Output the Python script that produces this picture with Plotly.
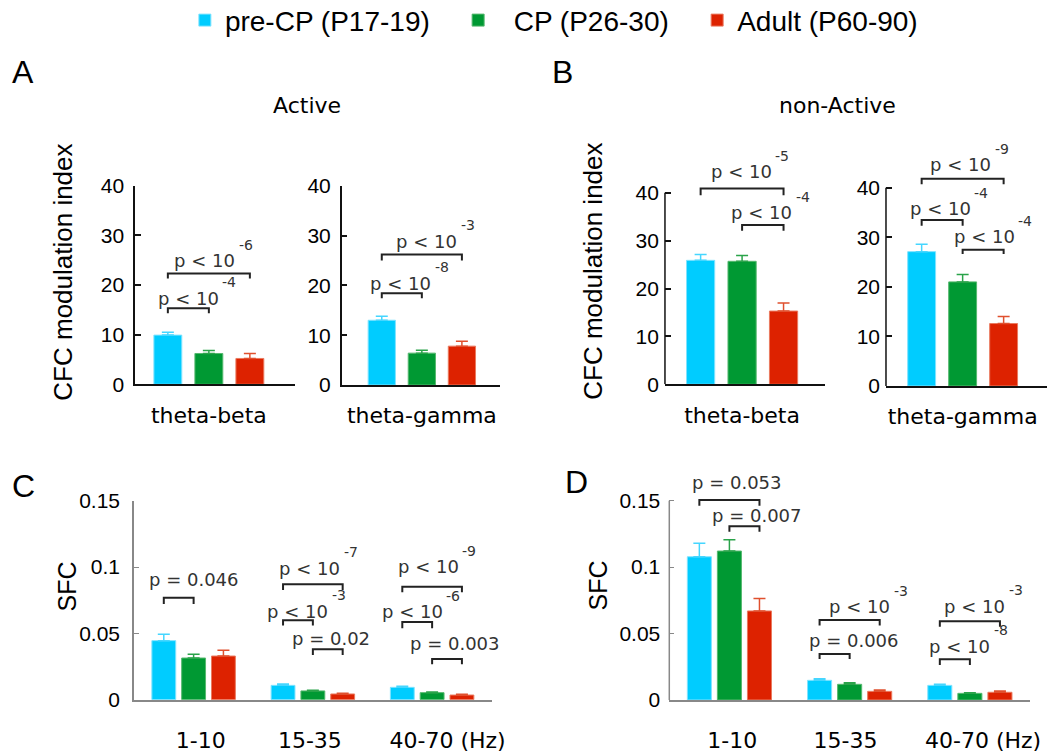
import plotly.graph_objects as go

# ---------------- data ----------------
group_names = ["pre-CP (P17-19)\u00a0\u00a0\u00a0", "\u00a0\u00a0CP (P26-30)\u00a0\u00a0\u00a0", "Adult (P60-90)"]
group_colors = ["#00CCFF", "#009933", "#DD2200"]
group_err_colors = ["#45D6FF", "#2AA34A", "#E0502E"]
group_edge_colors = ["#7FE3FF", "#55B86E", "#EA7A5F"]

cfc_labels = ["theta-beta", "theta-gamma"]

active_beta_mean = [9.9, 6.2, 5.2]
active_beta_sem = [0.6, 0.6, 1.0]
active_gamma_mean = [13.0, 6.4, 7.8]
active_gamma_sem = [0.8, 0.6, 1.0]
nonactive_beta_mean = [25.9, 25.7, 15.3]
nonactive_beta_sem = [1.2, 1.2, 1.7]
nonactive_gamma_mean = [27.1, 21.0, 12.6]
nonactive_gamma_sem = [1.5, 1.5, 1.4]

sfc_bands = ["1-10", "15-35", "40-70 (Hz)"]
sfc_active_precp = [0.0445, 0.0108, 0.0093]
sfc_active_precp_sem = [0.0048, 0.0010, 0.0008]
sfc_active_cp = [0.0314, 0.0066, 0.0053]
sfc_active_cp_sem = [0.0028, 0.0005, 0.0005]
sfc_active_adult = [0.0329, 0.0043, 0.0035]
sfc_active_adult_sem = [0.0043, 0.0005, 0.0005]
sfc_nonactive_precp = [0.1078, 0.0148, 0.0110]
sfc_nonactive_precp_sem = [0.0101, 0.0012, 0.0008]
sfc_nonactive_cp = [0.1121, 0.0118, 0.0050]
sfc_nonactive_cp_sem = [0.0085, 0.0012, 0.0005]
sfc_nonactive_adult = [0.0670, 0.0065, 0.0058]
sfc_nonactive_adult_sem = [0.0093, 0.0010, 0.0010]

cfc_ticks = [0, 10, 20, 30, 40]
sfc_ticks = [0, 0.05, 0.1, 0.15]
sfc_tick_text = ["0", "0.05", "0.1", "0.15"]

# significance brackets: subplot, band, bar i, bar j, level, tick bottom, label, exponent
brackets = [
    ("A1", 0, 0, 1, 15.3, 14.3, "p < 10", "-4"),
    ("A1", 0, 0, 2, 22.3, 21.3, "p < 10", "-6"),
    ("A2", 0, 0, 1, 18.4, 17.4, "p < 10", "-8"),
    ("A2", 0, 0, 2, 26.2, 25.0, "p < 10", "-3"),
    ("B1", 0, 0, 2, 40.9, 39.5, "p < 10", "-5"),
    ("B1", 0, 1, 2, 33.3, 32.1, "p < 10", "-4"),
    ("B2", 0, 0, 2, 41.8, 40.7, "p < 10", "-9"),
    ("B2", 0, 0, 1, 33.5, 32.3, "p < 10", "-4"),
    ("B2", 0, 1, 2, 27.5, 26.6, "p < 10", "-4"),
    ("C", 0, 0, 1, 0.0769, 0.0721, "p = 0.046", None),
    ("C", 1, 0, 2, 0.0870, 0.0827, "p < 10", "-7"),
    ("C", 1, 0, 1, 0.0598, 0.0560, "p < 10", "-3"),
    ("C", 1, 1, 2, 0.0380, 0.0337, "p = 0.02", None),
    ("C", 2, 0, 2, 0.0852, 0.0810, "p < 10", "-9"),
    ("C", 2, 0, 1, 0.0586, 0.0538, "p < 10", "-6"),
    ("C", 2, 1, 2, 0.0307, 0.0267, "p = 0.003", None),
    ("D", 0, 0, 2, 0.1505, 0.1462, "p = 0.053", None),
    ("D", 0, 1, 2, 0.1307, 0.1267, "p = 0.007", None),
    ("D", 1, 0, 2, 0.0602, 0.0560, "p < 10", "-3"),
    ("D", 1, 0, 1, 0.0346, 0.0309, "p = 0.006", None),
    ("D", 2, 0, 2, 0.0592, 0.0552, "p < 10", "-3"),
    ("D", 2, 0, 1, 0.0306, 0.0263, "p < 10", "-8"),
]
# label pixel offsets (dx, dy) relative to bracket centre
label_offsets = [
    (0, 10), (-4, 13), (-1, 10), (5, 13), (-1, 17), (-1, 12), (-2, 14), (-2, 11), (1, 13),
    (15, 18), (-3, 16), (0, 9), (3, 11), (-4, 20), (-5, 10), (7, 15),
    (7, 18), (12, 11), (10, 13), (19, 14), (5, 15), (5, 13),
]

# ---------------- styling ----------------
SANS = "Liberation Sans"
DJV = "DejaVu Sans"
TXT = "#333333"
sfc_offsets = [-0.25, 0.0, 0.25]
sfc_bar_width = 0.2
cfc_bar_width = 0.68

axes = {"A1": ("x", "y"), "A2": ("x2", "y2"), "B1": ("x3", "y3"),
        "B2": ("x4", "y4"), "C": ("x5", "y5"), "D": ("x6", "y6")}

fig = go.Figure()

cfc_sets = [("A1", active_beta_mean, active_beta_sem),
            ("A2", active_gamma_mean, active_gamma_sem),
            ("B1", nonactive_beta_mean, nonactive_beta_sem),
            ("B2", nonactive_gamma_mean, nonactive_gamma_sem)]
for key, means, sems in cfc_sets:
    xa, ya = axes[key]
    for k in range(3):
        fig.add_trace(go.Bar(
            x=[k], y=[means[k]], width=cfc_bar_width, name=group_names[k],
            legendgroup=str(k), showlegend=(key == "A1"),
            marker=dict(color=group_colors[k], line=dict(color=group_edge_colors[k], width=1)),
            error_y=dict(type="data", array=[sems[k]], arrayminus=[0], symmetric=False,
                         color=group_err_colors[k], thickness=1.5, width=6),
            xaxis=xa, yaxis=ya, hoverinfo="skip"))

sfc_sets = [("C", [(sfc_active_precp, sfc_active_precp_sem),
                   (sfc_active_cp, sfc_active_cp_sem),
                   (sfc_active_adult, sfc_active_adult_sem)]),
            ("D", [(sfc_nonactive_precp, sfc_nonactive_precp_sem),
                   (sfc_nonactive_cp, sfc_nonactive_cp_sem),
                   (sfc_nonactive_adult, sfc_nonactive_adult_sem)])]
for key, series in sfc_sets:
    xa, ya = axes[key]
    for k, (means, sems) in enumerate(series):
        fig.add_trace(go.Bar(
            x=[b + sfc_offsets[k] for b in range(len(sfc_bands))], y=means,
            width=sfc_bar_width, name=group_names[k], legendgroup=str(k), showlegend=False,
            marker=dict(color=group_colors[k], line=dict(color=group_edge_colors[k], width=1)),
            error_y=dict(type="data", array=sems, arrayminus=[0] * len(sems), symmetric=False,
                         color=group_err_colors[k], thickness=1.5, width=6),
            xaxis=xa, yaxis=ya, hoverinfo="skip"))

shapes = []
annotations = []

def bar_x(key, band, i):
    if key in ("C", "D"):
        return band + sfc_offsets[i]
    return i

for (key, band, i, j, lvl, bot, label, expo), (dx, dy) in zip(brackets, label_offsets):
    xa, ya = axes[key]
    x0, x1 = bar_x(key, band, i), bar_x(key, band, j)
    shapes.append(dict(type="path", xref=xa, yref=ya,
                       path=f"M {x0},{bot} L {x0},{lvl} L {x1},{lvl} L {x1},{bot}",
                       line=dict(color="#222222", width=2)))
    xm = (x0 + x1) / 2
    annotations.append(dict(x=xm, y=lvl, xref=xa, yref=ya, text=label, showarrow=False,
                            xanchor="center", yanchor="middle", xshift=dx, yshift=dy,
                            font=dict(family=DJV, size=18, color=TXT)))
    if expo:
        annotations.append(dict(x=xm, y=lvl, xref=xa, yref=ya, text=expo, showarrow=False,
                                xanchor="left", yanchor="middle", xshift=dx + 32, yshift=dy + 16,
                                font=dict(family=DJV, size=14, color=TXT)))

# axis lines for panels whose range is extended to fit brackets
for key, top, col, w in [("B1", 40, "#111111", 1.5), ("B2", 40, "#111111", 1.5), ("D", 0.15, "#888888", 1.5)]:
    xa, ya = axes[key]
    shapes.append(dict(type="line", xref=xa + " domain", yref=ya, x0=0, x1=0, y0=0, y1=top,
                       line=dict(color=col, width=w)))

# panel texts
def paper_text(x, y, text, family, size, angle=0, color="black"):
    annotations.append(dict(x=x, y=y, xref="paper", yref="paper", text=text, showarrow=False,
                            xanchor="center", yanchor="middle", textangle=angle,
                            font=dict(family=family, size=size, color=color)))

paper_text(0.0218, 0.9052, "A", SANS, 32)
paper_text(0.5330, 0.9048, "B", SANS, 32)
paper_text(0.0226, 0.3567, "C", SANS, 32)
paper_text(0.5464, 0.3618, "D", SANS, 32)
paper_text(0.2910, 0.8611, "Active", DJV, 22)
paper_text(0.7934, 0.8611, "non-Active", DJV, 22)
paper_text(0.0597, 0.6406, "CFC modulation index", SANS, 26, -90)
paper_text(0.5621, 0.6406, "CFC modulation index", SANS, 26, -90)
paper_text(0.0632, 0.2239, "SFC", SANS, 25, -90)
paper_text(0.5664, 0.2251, "SFC", SANS, 25, -90)

def cfc_x(domain, rng, label, anchor):
    return dict(domain=domain, anchor=anchor, range=rng, showline=True, linecolor="#111111",
                linewidth=2, ticks="", tickvals=[1], ticktext=[label], ticklabelstandoff=10,
                tickfont=dict(family=DJV, size=22, color="black"), automargin=False,
                showgrid=False, zeroline=False, fixedrange=True)

def cfc_y(domain, anchor, rng, line):
    return dict(domain=domain, anchor=anchor, range=rng, showline=line, linecolor="#111111",
                linewidth=1.5, ticks="inside", ticklen=6, tickwidth=1.5, tickcolor="#111111",
                tickvals=cfc_ticks, ticklabelstandoff=5, automargin=False,
                tickfont=dict(family=SANS, size=21, color="black"),
                showgrid=False, zeroline=False, fixedrange=True)

def sfc_x(domain, tickshift, anchor):
    return dict(domain=domain, anchor=anchor, range=[-0.5, 2.5], showline=True, linecolor="#888888",
                linewidth=1.5, ticks="",
                tickvals=[b + s for b, s in zip(range(len(sfc_bands)), tickshift)],
                ticktext=sfc_bands, tickangle=0, automargin=False,
                ticklabelstandoff=20, tickfont=dict(family=DJV, size=22, color="black"),
                showgrid=False, zeroline=False, fixedrange=True)

def sfc_y(domain, anchor, rng, line):
    return dict(domain=domain, anchor=anchor, range=rng, showline=line, linecolor="#888888",
                linewidth=1.5, ticks="inside", ticklen=5, tickwidth=1.2, tickcolor="#888888",
                tickvals=sfc_ticks, ticktext=sfc_tick_text, ticklabelstandoff=8, automargin=False,
                tickfont=dict(family=SANS, size=21, color="black"),
                showgrid=False, zeroline=False, fixedrange=True)

fig.update_layout(
    width=1055, height=756, margin=dict(l=0, r=0, t=0, b=0, autoexpand=False),
    paper_bgcolor="white", plot_bgcolor="white", barmode="overlay",
    showlegend=True,
    legend=dict(orientation="h", x=0.525, xanchor="center", y=0.973, yanchor="middle",
                font=dict(family=SANS, size=28, color="black"), bgcolor="rgba(0,0,0,0)",
                itemclick=False, itemdoubleclick=False),
    xaxis=cfc_x([0.1280, 0.2796], [-0.8, 3.1], cfc_labels[0], "y"),
    yaxis=cfc_y([0.4917, 0.7544], "x", [0, 40], True),
    xaxis2=cfc_x([0.3239, 0.4739], [-1.0, 2.95], cfc_labels[1], "y2"),
    yaxis2=cfc_y([0.4907, 0.7544], "x2", [0, 40], True),
    xaxis3=cfc_x([0.6303, 0.7820], [-0.86, 3.0], cfc_labels[0], "y3"),
    yaxis3=cfc_y([0.4917, 0.7702], "x3", [0, 44], False),
    xaxis4=cfc_x([0.8398, 0.9921], [-0.87, 3.05], cfc_labels[1], "y4"),
    yaxis4=cfc_y([0.4894, 0.7780], "x4", [0, 44], False),
    xaxis5=sfc_x([0.1270, 0.4661], [0.06, -0.025, 0.13], "y5"),
    yaxis5=sfc_y([0.0745, 0.3377], "x5", [0, 0.15], True),
    xaxis6=sfc_x([0.6344, 0.9763], [0.023, -0.035, 0.11], "y6"),
    yaxis6=sfc_y([0.0741, 0.3553], "x6", [0, 0.16], False),
    shapes=shapes, annotations=annotations,
)

fig.write_html("out.html")
